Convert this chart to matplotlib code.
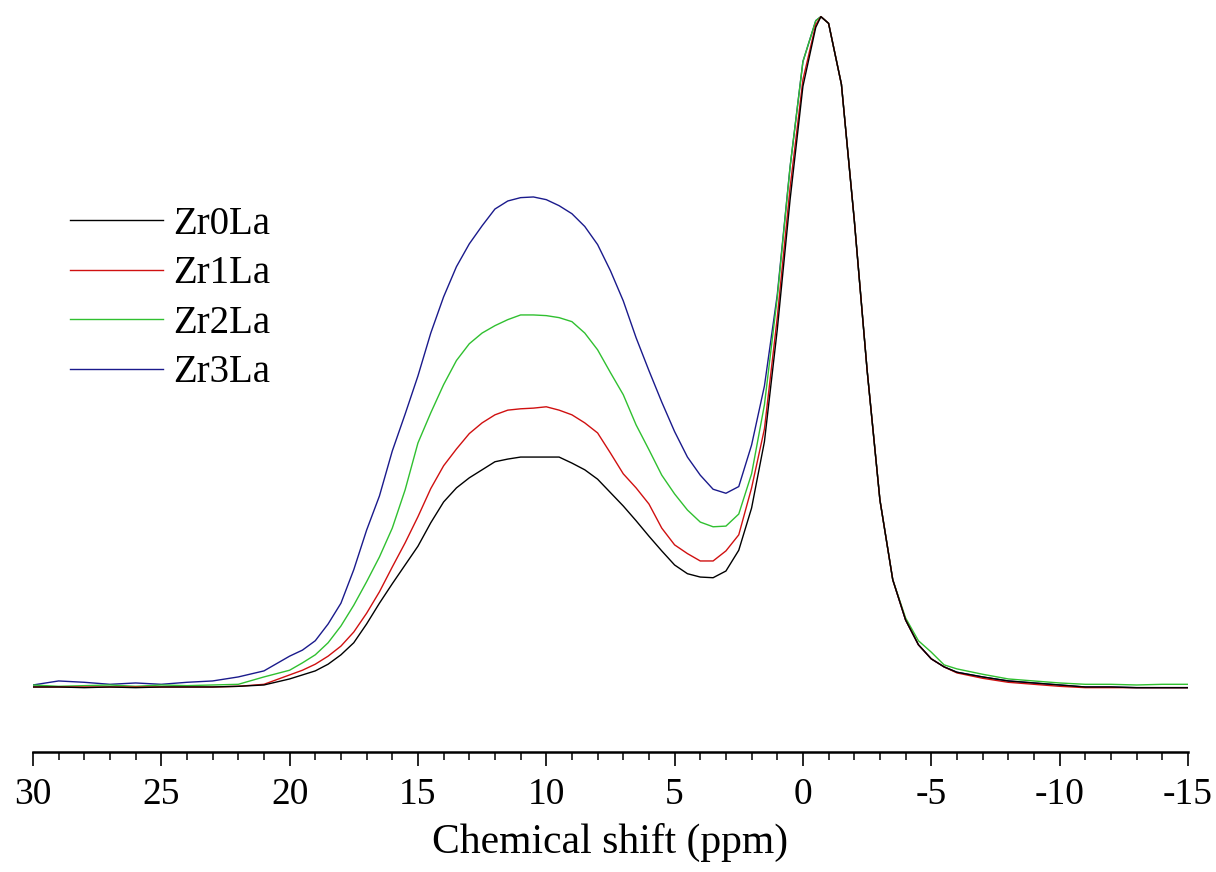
import matplotlib.pyplot as plt
from matplotlib.ticker import MultipleLocator

plt.rcParams['font.family'] = ['Liberation Serif', 'DejaVu Serif']
plt.rcParams['axes.unicode_minus'] = False

# chemical shift grid (ppm)
shift = [30, 29, 28, 27, 26, 25, 24, 23, 22, 21, 20, 19.5, 19, 18.5, 18, 17.5, 17, 16.5,
         16, 15.5, 15, 14.5, 14, 13.5, 13, 12.5, 12, 11.5, 11, 10.5, 10, 9.5, 9, 8.5, 8,
         7.5, 7, 6.5, 6, 5.5, 5, 4.5, 4, 3.5, 3, 2.5, 2, 1.5, 1, 0.5, 0, -0.5, -0.7, -1,
         -1.5, -2, -2.5, -3, -3.5, -4, -4.5, -5, -5.5, -6, -7, -8, -9, -10, -11, -12, -13,
         -14, -15]

# intensities, normalised so the main peak is 100
zr0la = [0.0, 0.0, -0.1, 0.0, -0.1, 0.0, 0.0, 0.0, 0.1, 0.3, 1.2, 1.8, 2.4, 3.4, 4.8, 6.6,
         9.4, 12.5, 15.4, 18.2, 21.0, 24.5, 27.6, 29.7, 31.2, 32.4, 33.6, 34.0, 34.3, 34.3,
         34.3, 34.3, 33.4, 32.4, 31.0, 29.0, 27.0, 24.8, 22.5, 20.3, 18.2, 16.9, 16.4, 16.3,
         17.3, 20.4, 26.7, 36.6, 53.3, 72.7, 89.6, 98.4, 100.0, 99.0, 89.9, 69.7, 47.3,
         27.9, 16.0, 10.0, 6.3, 4.2, 3.0, 2.2, 1.5, 0.9, 0.6, 0.3, 0.0, 0.0, -0.1, -0.1, -0.1]

zr1la = [0.0, 0.0, 0.0, 0.0, 0.0, 0.0, 0.0, 0.0, 0.1, 0.4, 1.8, 2.5, 3.4, 4.6, 6.1, 8.2,
         11.0, 14.2, 17.9, 21.5, 25.4, 29.6, 33.0, 35.5, 37.8, 39.4, 40.6, 41.3, 41.5, 41.6,
         41.8, 41.3, 40.6, 39.4, 37.9, 34.9, 31.8, 29.7, 27.3, 23.7, 21.2, 19.9, 18.8, 18.8,
         20.3, 22.7, 29.7, 38.5, 55.1, 74.5, 90.6, 98.8, 100.0, 99.0, 89.9, 69.7, 47.3,
         27.9, 16.0, 10.0, 6.3, 4.2, 3.0, 2.1, 1.3, 0.7, 0.4, 0.1, -0.1, -0.1, -0.1, -0.1, -0.1]

zr2la = [0.3, 0.1, 0.2, 0.3, 0.1, 0.3, 0.2, 0.3, 0.4, 1.5, 2.5, 3.6, 4.8, 6.6, 9.1, 12.2,
         15.7, 19.4, 23.7, 29.4, 36.4, 40.9, 45.1, 48.7, 51.2, 52.8, 53.9, 54.8, 55.5, 55.5,
         55.4, 55.1, 54.5, 52.8, 50.3, 46.9, 43.6, 39.1, 35.4, 31.6, 28.8, 26.4, 24.6, 23.9,
         24.0, 25.8, 31.8, 42.1, 58.1, 77.6, 93.3, 99.4, 100.0, 99.0, 89.9, 69.7, 47.3,
         27.9, 16.0, 10.3, 6.9, 5.2, 3.3, 2.7, 1.9, 1.2, 0.9, 0.6, 0.4, 0.4, 0.3, 0.4, 0.4]

zr3la = [0.3, 0.9, 0.7, 0.4, 0.6, 0.4, 0.7, 0.9, 1.5, 2.4, 4.6, 5.5, 6.9, 9.4, 12.5, 17.5,
         23.4, 28.5, 35.2, 40.7, 46.4, 52.8, 58.2, 62.7, 66.1, 68.8, 71.3, 72.5, 73.0, 73.1,
         72.7, 71.8, 70.6, 68.7, 66.0, 62.1, 57.6, 52.1, 47.2, 42.5, 38.1, 34.3, 31.6, 29.5,
         28.9, 29.9, 36.1, 44.9, 58.5, 77.6, 93.3, 99.4, 100.0, 99.0, 89.9, 69.7, 47.3,
         27.9, 16.0, 10.0, 6.3, 4.2, 3.0, 2.2, 1.5, 0.9, 0.6, 0.3, 0.0, 0.0, -0.1, -0.1, -0.1]

labels = ['Zr0La', 'Zr1La', 'Zr2La', 'Zr3La']
colors = ['black', '#d01010', '#30c030', '#1a1a8c']

fig = plt.figure(figsize=(12.16, 8.72), dpi=100)
ax = fig.add_axes([0.0271, 0.1376, 0.9498, 0.851])

series = [zr0la, zr1la, zr2la, zr3la]
for i, ys in enumerate(series):
    ax.plot(shift, ys, color=colors[i], lw=1.0, label=labels[i], zorder=5 - i)

ax.set_xlim(30, -15)
ax.set_ylim(-9.7, 101.0)

for side in ['top', 'right', 'left']:
    ax.spines[side].set_visible(False)
ax.spines['bottom'].set_linewidth(1.8)
ax.set_yticks([])
ax.xaxis.set_major_locator(MultipleLocator(5))
ax.xaxis.set_minor_locator(MultipleLocator(1))
ax.tick_params(axis='x', which='major', length=10, width=1.2, labelsize=27, pad=8)
ax.tick_params(axis='x', which='minor', length=6, width=1.1)
ax.set_xlabel('Chemical shift (ppm)', fontsize=30, labelpad=8)

ax.legend(loc='upper left', bbox_to_anchor=(0.0185, 0.757), frameon=False, fontsize=28,
          handlelength=2.4, handletextpad=0.26, labelspacing=0.32, borderaxespad=0)

fig.savefig('out.png', dpi=100)
